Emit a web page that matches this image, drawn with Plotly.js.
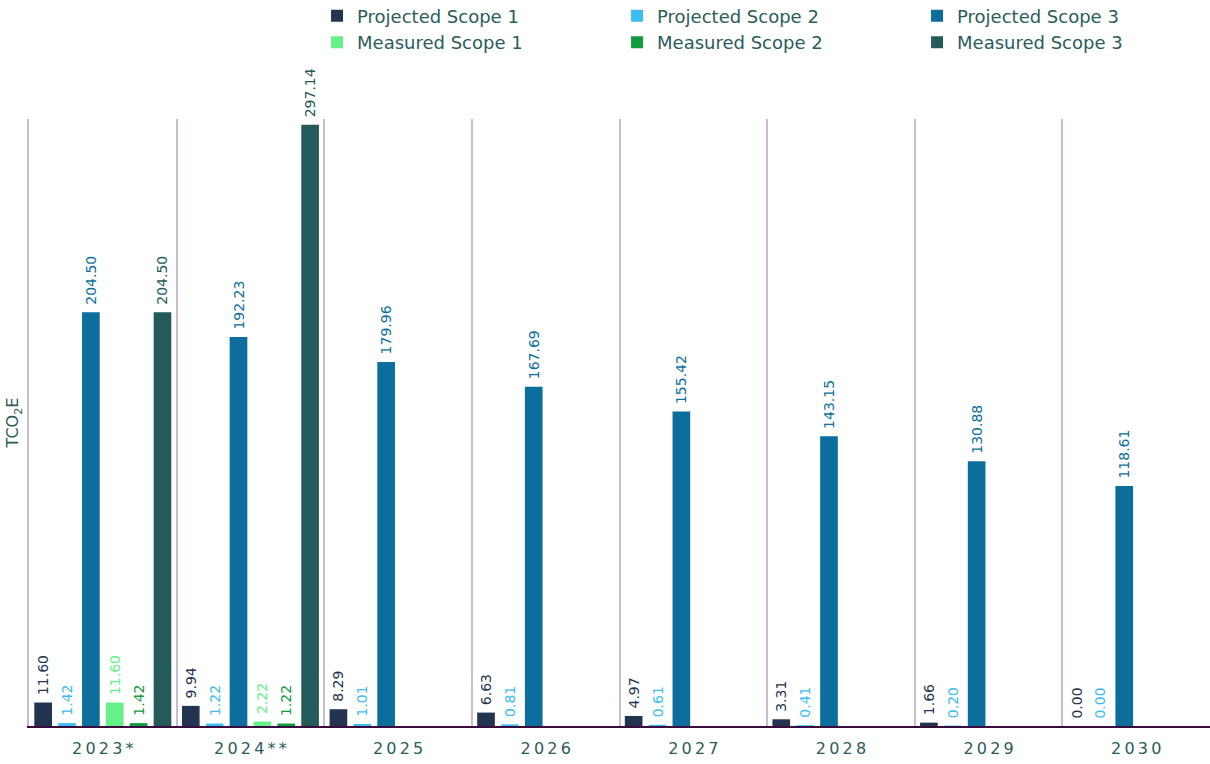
<!DOCTYPE html>
<html>
<head>
<meta charset="utf-8">
<script src="https://cdn.plot.ly/plotly-3.0.1.min.js"></script>
<style>html,body{margin:0;padding:0;background:#fff;}#chart{width:1210px;height:764px;}</style>
</head>
<body>
<div id="chart"></div>
<script>
const years = ["2023*", "2024**", "2025", "2026", "2027", "2028", "2029", "2030"];
const projectedScope1 = [11.60, 9.94, 8.29, 6.63, 4.97, 3.31, 1.66, 0.00];
const projectedScope2 = [1.42, 1.22, 1.01, 0.81, 0.61, 0.41, 0.20, 0.00];
const projectedScope3 = [204.50, 192.23, 179.96, 167.69, 155.42, 143.15, 130.88, 118.61];
const measuredScope1 = [11.60, 2.22, null, null, null, null, null, null];
const measuredScope2 = [1.42, 1.22, null, null, null, null, null, null];
const measuredScope3 = [204.50, 297.14, null, null, null, null, null, null];

const seriesNames = ["Projected Scope 1", "Projected Scope 2", "Projected Scope 3",
                     "Measured Scope 1", "Measured Scope 2", "Measured Scope 3"];
const seriesValues = [projectedScope1, projectedScope2, projectedScope3,
                      measuredScope1, measuredScope2, measuredScope3];
const seriesColors = ["#22344f", "#3dbcf0", "#0b6e9c", "#66f08a", "#0f9b3e", "#245b5a"];

const FONT = "'DejaVu Sans', sans-serif";
const TEXTCOL = "#2b5c5c";

const traces = seriesNames.map((name, i) => ({
  type: "bar",
  name: name,
  x: years,
  y: seriesValues[i],
  marker: {color: seriesColors[i]},
  texttemplate: "\u00a0%{y:.2f}",
  textposition: "outside",
  textangle: -90,
  cliponaxis: false,
  constraintext: "none",
  textfont: {family: FONT, size: 14, color: seriesColors[i]},
  hoverinfo: "skip"
}));

const layout = {
  width: 1210, height: 764,
  margin: {l: 29, r: 0, t: 119, b: 38, autoexpand: false},
  paper_bgcolor: "#ffffff",
  plot_bgcolor: "#ffffff",
  font: {family: FONT, color: TEXTCOL},
  barmode: "group",
  bargap: 0.03,
  bargroupgap: 0.26,
  showlegend: true,
  legend: {
    orientation: "h",
    xref: "paper", yref: "paper",
    x: 0.2439, y: 1.200, xanchor: "left", yanchor: "top",
    entrywidth: 255, entrywidthmode: "pixels",
    traceorder: "normal",
    font: {family: FONT, size: 18, color: TEXTCOL},
    bgcolor: "rgba(0,0,0,0)"
  },
  xaxis: {
    type: "category",
    tickson: "boundaries",
    showgrid: true,
    gridcolor: "#cbbcd2",
    gridwidth: 2,
    ticks: "",
    showline: true,
    linecolor: "#3a0c3e",
    linewidth: 2,
    tickmode: "array",
    tickvals: years,
    ticktext: years.map(y => y.split("").join("\u2009")),
    tickfont: {family: FONT, size: 16, color: TEXTCOL},
    ticklabelstandoff: 7,
    zeroline: false
  },
  yaxis: {
    range: [0, 300],
    showgrid: false,
    zeroline: false,
    showline: true,
    linecolor: "#cbbcd2",
    linewidth: 2,
    showticklabels: false,
    ticks: "",
    title: {text: "TCO<sub>2</sub>E", font: {family: FONT, size: 16, color: TEXTCOL}, standoff: 4}
  }
};

Plotly.newPlot("chart", traces, layout, {displayModeBar: false, staticPlot: true});
</script>
</body>
</html>
